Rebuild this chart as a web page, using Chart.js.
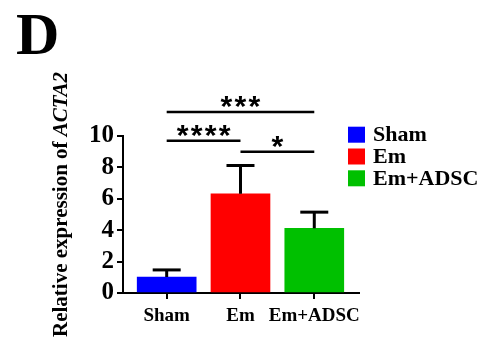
<!DOCTYPE html>
<html>
<head>
<meta charset="utf-8">
<script src="https://cdn.jsdelivr.net/npm/chart.js@4.4.0/dist/chart.umd.min.js"></script>
<style>
  html, body { margin: 0; padding: 0; background: #fff; }
  canvas { display: block; }
</style>
</head>
<body>
<canvas id="c" width="482" height="348"></canvas>
<script>
// ---- data ----
const categories = ['Sham', 'Em', 'Em+ADSC'];
const means = [1.02, 6.32, 4.12];
const errors = [0.45, 1.8, 1.03];
const barColors = ['#0000FF', '#FF0000', '#00C000'];
const yTicks = [0, 2, 4, 6, 8, 10];
// significance brackets
const sigFrom = [0, 0, 1];
const sigTo = [2, 1, 2];
const sigLevel = [11.53, 9.7, 9.0];
const sigLabel = ['***', '****', '*'];
const panelLetter = 'D';
const yTitleMain = 'Relative expression of ';
const yTitleGene = 'ACTA2';

const SERIF = '"Liberation Serif", "Times New Roman", serif';
const SANS = '"Liberation Sans", Arial, sans-serif';

const extras = {
  id: 'extras',
  afterDatasetsDraw(chart) {
    const ctx = chart.ctx;
    const xs = chart.scales.x, ys = chart.scales.y;
    ctx.save();
    // error bars
    ctx.strokeStyle = '#000';
    ctx.lineWidth = 3;
    ctx.lineCap = 'butt';
    means.forEach((m, i) => {
      const px = xs.getPixelForValue(i);
      const y0 = ys.getPixelForValue(m);
      const y1 = ys.getPixelForValue(m + errors[i]);
      ctx.beginPath();
      ctx.moveTo(px, y0);
      ctx.lineTo(px, y1);
      ctx.stroke();
      ctx.beginPath();
      ctx.moveTo(px - 14, y1);
      ctx.lineTo(px + 14, y1);
      ctx.stroke();
    });
    // significance lines
    ctx.lineWidth = 2.5;
    ctx.fillStyle = '#000';
    ctx.font = 'bold 100px ' + SANS;
    let mm = ctx.measureText('*');
    const h100 = mm.actualBoundingBoxAscent + mm.actualBoundingBoxDescent;
    const starSize = 11.5 / h100 * 100;
    ctx.font = 'bold ' + starSize + 'px ' + SANS;
    mm = ctx.measureText('*');
    const baseOff = (mm.actualBoundingBoxAscent - mm.actualBoundingBoxDescent) / 2;
    ctx.textAlign = 'center';
    ctx.textBaseline = 'alphabetic';
    sigLevel.forEach((lv, k) => {
      const xa = xs.getPixelForValue(sigFrom[k]);
      const xb = xs.getPixelForValue(sigTo[k]);
      const yy = ys.getPixelForValue(lv);
      ctx.beginPath();
      ctx.moveTo(xa, yy);
      ctx.lineTo(xb, yy);
      ctx.stroke();
      const n = sigLabel[k].length;
      const cx = (xa + xb) / 2;
      const cy = yy - 10;
      const pitch = 14;
      for (let j = 0; j < n; j++) {
        const sx = cx + (j - (n - 1) / 2) * pitch;
        ctx.fillText('*', sx, cy + baseOff);
      }
    });
    ctx.restore();
  },
  afterDraw(chart) {
    const ctx = chart.ctx;
    ctx.save();
    ctx.fillStyle = '#000';
    // panel letter
    ctx.font = 'bold 60px ' + SERIF;
    ctx.textAlign = 'left';
    ctx.textBaseline = 'alphabetic';
    ctx.fillText(panelLetter, 16, 54);
    // y title
    ctx.save();
    ctx.translate(66.5, 337);
    ctx.rotate(-Math.PI / 2);
    ctx.font = 'bold 21px ' + SERIF;
    ctx.fillText(yTitleMain, 0, 0);
    const w = ctx.measureText(yTitleMain).width;
    ctx.font = 'italic bold 21px ' + SERIF;
    ctx.fillText(yTitleGene, w, 0);
    ctx.restore();
    // legend
    ctx.font = 'bold 22px ' + SERIF;
    ctx.textBaseline = 'middle';
    categories.forEach((c, i) => {
      const cy = 134.7 + i * 21.8;
      ctx.fillStyle = barColors[i];
      ctx.fillRect(348, cy - 8, 17, 16);
      ctx.fillStyle = '#000';
      ctx.fillText(c, 373, cy + 1);
    });
    ctx.restore();
  }
};

new Chart(document.getElementById('c'), {
  type: 'bar',
  data: {
    datasets: [{
      data: means.map((v, i) => ({ x: i, y: v })),
      backgroundColor: barColors,
      borderWidth: 0,
      barThickness: 59,
      grouped: false
    }]
  },
  options: {
    responsive: false,
    animation: false,
    devicePixelRatio: 1,
    layout: { padding: { left: 0, top: 136, right: 123, bottom: 0 } },
    plugins: { legend: { display: false }, tooltip: { enabled: false } },
    scales: {
      x: {
        type: 'linear',
        offset: false,
        min: -0.592,
        max: 2.606,
        afterFit: s => { s.height = 55; },
        afterBuildTicks: s => { s.ticks = categories.map((c, i) => ({ value: i })); },
        grid: { offset: false, drawOnChartArea: false, drawTicks: true, tickLength: 6, color: '#000', lineWidth: 2 },
        border: { display: true, color: '#000', width: 2 },
        ticks: {
          autoSkip: false,
          maxRotation: 0,
          padding: 6,
          color: '#000',
          font: { family: SERIF, size: 19, weight: 'bold' },
          callback: v => categories[v]
        }
      },
      y: {
        min: 0,
        max: 10,
        afterFit: s => { s.width = 123; },
        afterBuildTicks: s => { s.ticks = yTicks.map(v => ({ value: v })); },
        grid: { drawOnChartArea: false, drawTicks: true, tickLength: 6, color: '#000', lineWidth: 2 },
        border: { display: true, color: '#000', width: 2 },
        ticks: {
          autoSkip: false,
          padding: 3,
          color: '#000',
          font: { family: SERIF, size: 25, weight: 'bold' }
        }
      }
    }
  },
  plugins: [extras]
});
</script>
</body>
</html>
